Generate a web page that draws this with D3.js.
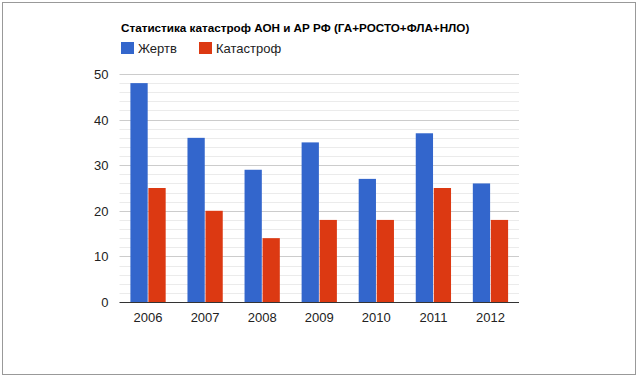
<!DOCTYPE html>
<html>
<head>
<meta charset="utf-8">
<script src="https://cdn.jsdelivr.net/npm/d3@7"></script>
<style>
  body { margin: 0; background: #fff; }
  svg text { font-family: Arial, "Liberation Sans", sans-serif; }
</style>
</head>
<body>
<div id="chart"></div>
<script>
// data
const years = ["2006", "2007", "2008", "2009", "2010", "2011", "2012"];
const seriesNames = ["Жертв", "Катастроф"];
const victims = [48, 36, 29, 35, 27, 37, 26];
const crashes = [25, 20, 14, 18, 18, 25, 18];
const yTicks = [0, 10, 20, 30, 40, 50];
const chartTitle = "Статистика катастроф АОН и АР РФ (ГА+РОСТО+ФЛА+НЛО)";

const colors = ["#3366cc", "#dc3912"];
const W = 638, H = 377;
const margin = { top: 74, right: 119, bottom: 75, left: 119.5 };
const width = W - margin.left - margin.right,
      height = H - margin.top - margin.bottom;

const svg = d3.select("#chart").append("svg")
    .attr("width", W)
    .attr("height", H);

// outer frame
svg.append("rect")
    .attr("x", 2.5).attr("y", 2.5)
    .attr("width", 633).attr("height", 372)
    .attr("fill", "#fff")
    .attr("stroke", "#999");

const g = svg.append("g")
    .attr("transform", `translate(${margin.left},${margin.top})`);

const x0 = d3.scaleBand()
    .domain(years)
    .range([0, width])
    .paddingInner(0.382)
    .paddingOuter(0.191);

const x1 = d3.scaleBand()
    .domain(seriesNames)
    .range([0, x0.bandwidth()])
    .paddingInner(0.04);

const y = d3.scaleLinear()
    .domain([0, 50])
    .range([height, 0]);

// minor gridlines every 2
g.append("g")
    .selectAll("line")
    .data(d3.range(2, 50, 2).filter(v => v % 10 !== 0))
    .enter().append("line")
    .attr("x1", 0).attr("x2", width)
    .attr("y1", d => Math.round(y(d)) + 0.5)
    .attr("y2", d => Math.round(y(d)) + 0.5)
    .attr("stroke", "#ebebeb");

// major gridlines
g.append("g")
    .selectAll("line")
    .data(yTicks.slice(1))
    .enter().append("line")
    .attr("x1", 0).attr("x2", width)
    .attr("y1", d => Math.round(y(d)) + 0.5)
    .attr("y2", d => Math.round(y(d)) + 0.5)
    .attr("stroke", "#cccccc");

// y labels
g.append("g")
    .selectAll("text")
    .data(yTicks)
    .enter().append("text")
    .attr("x", -11)
    .attr("y", d => y(d) + 5)
    .attr("text-anchor", "end")
    .attr("font-size", 13)
    .attr("fill", "#222")
    .text(d => d);

// bars
const rows = years.map((yr, i) => ({ year: yr, values: [victims[i], crashes[i]] }));

const groups = g.selectAll(".grp")
    .data(rows)
    .enter().append("g")
    .attr("class", "grp")
    .attr("transform", d => `translate(${x0(d.year)},0)`);

groups.selectAll("rect")
    .data(d => d.values.map((v, k) => ({ name: seriesNames[k], value: v, k: k })))
    .enter().append("rect")
    .attr("x", d => x1(d.name))
    .attr("y", d => y(d.value))
    .attr("width", x1.bandwidth())
    .attr("height", d => height - y(d.value))
    .attr("fill", d => colors[d.k]);

// baseline
g.append("line")
    .attr("x1", 0).attr("x2", width)
    .attr("y1", height + 0.5).attr("y2", height + 0.5)
    .attr("stroke", "#333");

// x labels
g.append("g")
    .selectAll("text")
    .data(years)
    .enter().append("text")
    .attr("x", d => x0(d) + x0.bandwidth() / 2)
    .attr("y", height + 20)
    .attr("text-anchor", "middle")
    .attr("font-size", 13)
    .attr("fill", "#222")
    .text(d => d);

// title
svg.append("text")
    .attr("x", 121)
    .attr("y", 32)
    .attr("font-size", 11.7)
    .attr("font-weight", "bold")
    .attr("fill", "#000")
    .text(chartTitle);

// legend
const legendX = [121, 199];
const legend = svg.selectAll(".legend")
    .data(seriesNames)
    .enter().append("g")
    .attr("class", "legend")
    .attr("transform", (d, i) => `translate(${legendX[i]},42)`);

legend.append("rect")
    .attr("width", 13).attr("height", 12)
    .attr("fill", (d, i) => colors[i]);

legend.append("text")
    .attr("x", 17)
    .attr("y", 11)
    .attr("font-size", 13)
    .attr("fill", "#222")
    .text(d => d);
</script>
</body>
</html>
